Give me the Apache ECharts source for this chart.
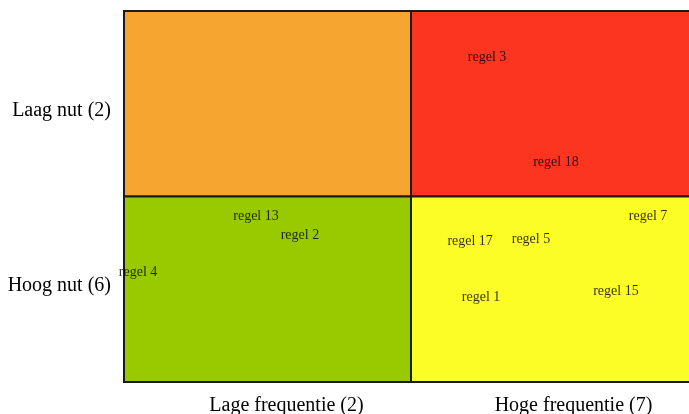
<!DOCTYPE html>
<html>
<head>
<meta charset="utf-8">
<script src="https://cdn.jsdelivr.net/npm/echarts@6/dist/echarts.min.js"></script>
<style>html,body{margin:0;padding:0;background:#fff}#c{width:689px;height:414px}</style>
</head>
<body>
<div id="c"></div>
<script>
// Categories / tick labels
var xLabels = ['Lage frequentie (2)', 'Hoge frequentie (7)'];
var yLabels = ['Hoog nut (6)', 'Laag nut (2)'];
// Quadrants: [x0, y0, x1, y1, colour]
var quadrants = [
  [0, 1, 1, 2, '#F6A530'],
  [1, 1, 2, 2, '#FC3521'],
  [0, 0, 1, 1, '#99CA00'],
  [1, 0, 2, 1, '#FCFC26']
];
// Items
var names = ['regel 3', 'regel 18', 'regel 13', 'regel 2', 'regel 4', 'regel 17', 'regel 5', 'regel 7', 'regel 1', 'regel 15'];
var xs = [1.265, 1.505, 0.460, 0.613, 0.049, 1.206, 1.418, 1.826, 1.244, 1.714];
var ys = [1.752, 1.186, 0.895, 0.792, 0.593, 0.760, 0.771, 0.895, 0.458, 0.490];

var serif = 'Liberation Serif';
var chart = echarts.init(document.getElementById('c'));
chart.setOption({
  animation: false,
  grid: {left: 124, top: 11, width: 574, height: 371, outerBoundsMode: 'none', containLabel: false},
  xAxis: {
    type: 'value', min: 0, max: 2, interval: 0.5,
    axisLine: {show: false}, axisTick: {show: false}, splitLine: {show: false},
    axisLabel: {
      margin: 14, fontFamily: serif, fontSize: 20, color: '#000',
      padding: [0, 0, 0, 38],
      formatter: function (v) {
        if (Math.abs(v - 0.5) < 1e-6) return xLabels[0];
        if (Math.abs(v - 1.5) < 1e-6) return xLabels[1];
        return '';
      }
    }
  },
  yAxis: {
    type: 'value', min: 0, max: 2, interval: 0.5,
    axisLine: {show: false}, axisTick: {show: false}, splitLine: {show: false},
    axisLabel: {
      margin: 13, fontFamily: serif, fontSize: 20, color: '#000',
      formatter: function (v) {
        if (Math.abs(v - 0.5) < 1e-6) return '{b|' + yLabels[0] + '}';
        if (Math.abs(v - 1.5) < 1e-6) return '{a|' + yLabels[1] + '}';
        return '';
      },
      rich: {
        a: {fontFamily: serif, fontSize: 20, color: '#000', padding: [13, 0, 0, 0]},
        b: {fontFamily: serif, fontSize: 20, color: '#000', padding: [0, 0, 8, 0]}
      }
    }
  },
  series: [{
    type: 'scatter',
    symbolSize: 0,
    data: names.map(function (n, i) { return [xs[i], ys[i], n]; }),
    label: {
      show: true, position: 'inside', color: '#000',
      fontFamily: serif, fontSize: 14,
      formatter: function (p) { return p.data[2]; }
    },
    markArea: {
      silent: true,
      data: quadrants.map(function (q) {
        return [
          {xAxis: q[0], yAxis: q[1], itemStyle: {color: q[4], borderColor: '#1a1a1a', borderWidth: 2}},
          {xAxis: q[2], yAxis: q[3]}
        ];
      })
    },
    z: 3
  }]
});
</script>
</body>
</html>
